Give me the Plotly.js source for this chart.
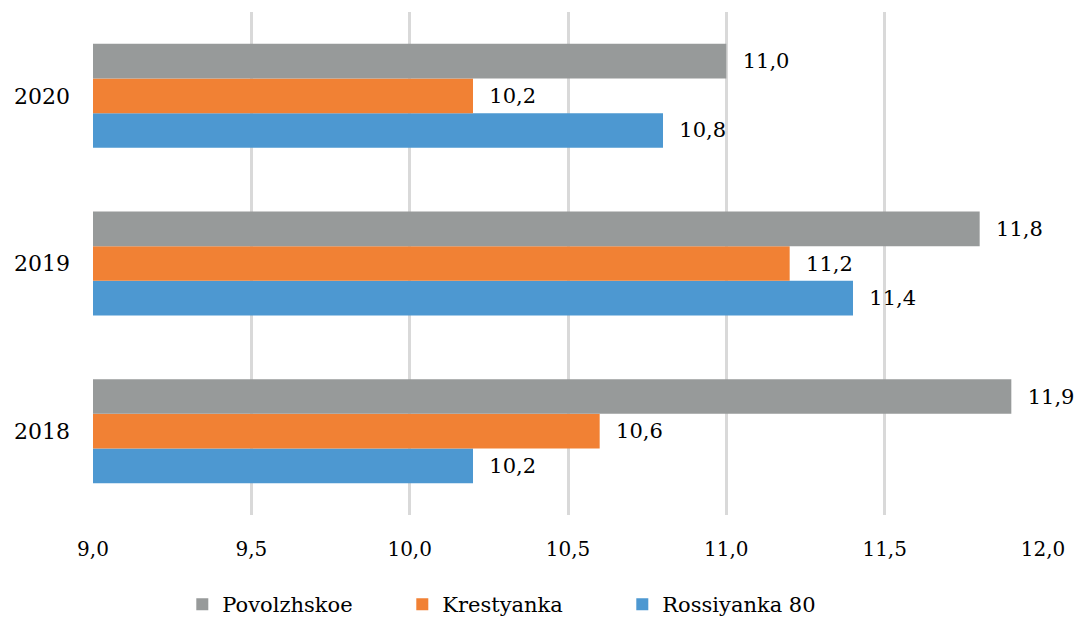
<!DOCTYPE html>
<html>
<head>
<meta charset="utf-8">
<script src="https://cdn.plot.ly/plotly-3.0.1.min.js"></script>
<style>html,body{margin:0;padding:0;background:#fff;}#chart{width:1082px;height:625px;}</style>
</head>
<body>
<div id="chart"></div>
<script>
const years = ['2018', '2019', '2020'];
const povolzhskoe = [11.9, 11.8, 11.0];
const krestyanka = [10.6, 11.2, 10.2];
const rossiyanka80 = [10.2, 11.4, 10.8];
const seriesNames = ['Rossiyanka 80', 'Krestyanka', 'Povolzhskoe'];
const seriesColors = ['rgb(77,152,209)', 'rgb(241,129,52)', 'rgb(151,154,154)'];
const tickVals = [9.0, 9.5, 10.0, 10.5, 11.0, 11.5, 12.0];
const tickText = ['9,0', '9,5', '10,0', '10,5', '11,0', '11,5', '12,0'];

const FONT = 'DejaVu Serif';
const seriesValues = [rossiyanka80, krestyanka, povolzhskoe];
const fmt = v => '\u00a0\u00a0' + v.toFixed(1).replace('.', ',');

const traces = seriesValues.map((vals, i) => ({
  type: 'bar',
  orientation: 'h',
  name: seriesNames[i],
  y: years,
  x: vals,
  marker: {color: seriesColors[i]},
  text: vals.map(fmt),
  textposition: 'outside',
  textfont: {family: FONT, size: 21, color: '#000'},
  constraintext: 'none',
  cliponaxis: false,
  hoverinfo: 'none'
}));

const layout = {
  width: 1082, height: 625,
  margin: {l: 93, r: 39, t: 12, b: 110},
  paper_bgcolor: '#fff', plot_bgcolor: '#fff',
  font: {family: FONT, size: 20, color: '#000'},
  barmode: 'group',
  bargap: 0.38,
  bargroupgap: 0,
  xaxis: {
    range: [9, 12],
    tickvals: tickVals,
    ticktext: tickText,
    showgrid: true,
    gridcolor: '#d9d9d9',
    gridwidth: 3,
    zeroline: false,
    showline: false,
    ticks: '',
    automargin: false,
    ticklabelstandoff: 20,
    tickfont: {family: FONT, size: 20, color: '#000'}
  },
  yaxis: {
    type: 'category',
    categoryorder: 'array',
    categoryarray: years,
    showgrid: false,
    zeroline: false,
    showline: false,
    ticks: '',
    automargin: false,
    ticklabelstandoff: 22,
    tickfont: {family: FONT, size: 22, color: '#000'}
  },
  showlegend: true,
  legend: {
    orientation: 'h',
    traceorder: 'reversed',
    x: 0.094, xanchor: 'left',
    yref: 'container',
    y: 0, yanchor: 'bottom',
    font: {family: FONT, size: 21, color: '#000'},
    entrywidth: 175,
    itemclick: false
  }
};

Plotly.newPlot('chart', traces, layout, {staticPlot: true});
</script>
</body>
</html>
